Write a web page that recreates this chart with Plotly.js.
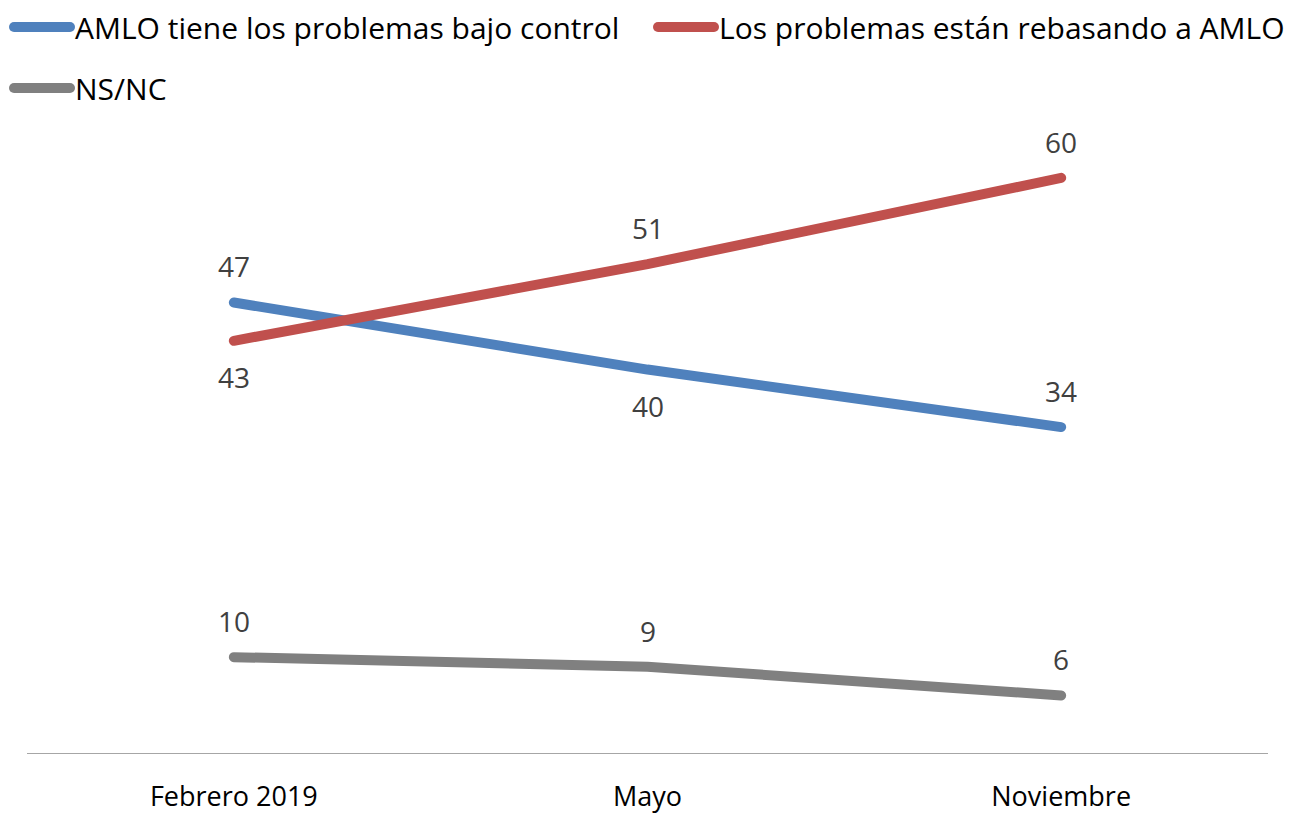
<!DOCTYPE html>
<html>
<head>
<meta charset="utf-8">
<script src="https://cdn.plot.ly/plotly-3.0.1.min.js"></script>
<style>
html,body{margin:0;padding:0;background:#fff;}
#chart{width:1289px;height:813px;}
path.js-line{stroke-linecap:round !important;stroke-linejoin:round !important;}
</style>
</head>
<body>
<div id="chart"></div>
<script>
const categories = ["Febrero 2019", "Mayo", "Noviembre"];
const seriesNames = ["AMLO tiene los problemas bajo control", "Los problemas están rebasando a AMLO", "NS/NC"];
const controlValues = [47, 40, 34];
const rebasandoValues = [43, 51, 60];
const nsncValues = [10, 9, 6];

const colors = ["#4F81BD", "#C0504D", "#808080"];
const allValues = [controlValues, rebasandoValues, nsncValues];
// label side per series/point: +1 above, -1 below
const labelSide = [[1, -1, 1], [-1, 1, 1], [1, 1, 1]];
const legends = ["legend", "legend2", "legend3"];

const traces = allValues.map((vals, i) => ({
  type: "scatter",
  mode: "lines",
  x: categories,
  y: vals,
  name: seriesNames[i],
  line: {color: colors[i], width: 10},
  legend: legends[i],
  hoverinfo: "skip"
}));

const annotations = [];
allValues.forEach((vals, i) => {
  vals.forEach((v, j) => {
    annotations.push({
      x: categories[j], y: v, xref: "x", yref: "y",
      text: String(v), showarrow: false,
      yshift: 36 * labelSide[i][j],
      font: {family: "Open Sans, sans-serif", size: 28, color: "#404040"}
    });
  });
});

const legendFont = {family: "Open Sans, sans-serif", size: 30, color: "#000"};
function leg(xpx, ypx) {
  return {
    orientation: "h", xref: "container", yref: "container",
    x: xpx / 1289, xanchor: "left", y: 1 - ypx / 813, yanchor: "middle",
    font: legendFont, itemwidth: 56, bgcolor: "rgba(0,0,0,0)"
  };
}

const layout = {
  width: 1289, height: 813,
  margin: {l: 27, r: 21, t: 82, b: 60, autoexpand: false},
  paper_bgcolor: "#fff", plot_bgcolor: "#fff",
  font: {family: "Open Sans, sans-serif"},
  showlegend: true,
  legend: leg(9, 27),
  legend2: leg(653, 27),
  legend3: leg(9, 88),
  xaxis: {
    type: "category", range: [-0.5, 2.5],
    showgrid: false, zeroline: false,
    showline: true, linecolor: "#A6A6A6", linewidth: 1.3,
    ticks: "", ticklabelstandoff: 19, automargin: false,
    tickfont: {family: "Open Sans, sans-serif", size: 27, color: "#000"},
    fixedrange: true
  },
  yaxis: {
    range: [0, 70], showgrid: false, zeroline: false, showline: false,
    showticklabels: false, ticks: "", fixedrange: true, automargin: false
  },
  annotations: annotations
};

Plotly.newPlot("chart", traces, layout, {displayModeBar: false, staticPlot: true});
</script>
</body>
</html>
